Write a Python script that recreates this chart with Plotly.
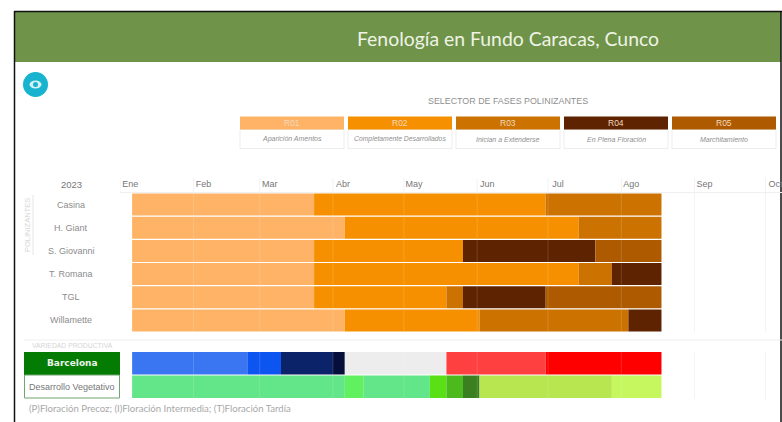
import plotly.graph_objects as go
from datetime import datetime

W, H = 782, 422

# ---- data ----
YEAR = "2023"
months = ["Ene", "Feb", "Mar", "Abr", "May", "Jun", "Jul", "Ago", "Sep", "Oct"]
month_starts = ["2023-%02d-01" % m for m in range(1, 11)]
varieties = ["Casina", "H. Giant", "S. Giovanni", "T. Romana", "TGL", "Willamette"]

phase_names = ["R01", "R02", "R03", "R04", "R05"]
phase_desc = ["Aparición Amentos", "Completamente Desarrollados", "Inician a Extenderse",
              "En Plena Floración", "Marchitamiento"]
phase_colors = ["#FFB366", "#F69000", "#CC7200", "#5E2300", "#AE5A00"]

R01_start = ["2023-01-06"] * 6
R01_end = ["2023-03-24", "2023-04-06", "2023-03-24", "2023-03-24", "2023-03-24", "2023-04-06"]
R02_start = R01_end
R02_end = ["2023-06-30", "2023-07-14", "2023-05-26", "2023-07-14", "2023-05-19", "2023-06-02"]
R03_start = ["2023-06-30", "2023-07-14", None, "2023-07-14", "2023-05-19", "2023-06-02"]
R03_end = ["2023-08-18", "2023-08-18", None, "2023-07-28", "2023-05-26", "2023-08-04"]
R04_start = [None, None, "2023-05-26", "2023-07-28", "2023-05-26", "2023-08-04"]
R04_end = [None, None, "2023-07-21", "2023-08-18", "2023-06-30", "2023-08-18"]
R05_start = [None, None, "2023-07-21", None, "2023-06-30", None]
R05_end = [None, None, "2023-08-18", None, "2023-08-18", None]
phase_starts = [R01_start, R02_start, R03_start, R04_start, R05_start]
phase_ends = [R01_end, R02_end, R03_end, R04_end, R05_end]

prod_rows = ["Barcelona", "Desarrollo Vegetativo"]
barcelona_starts = ["2023-01-06", "2023-02-24", "2023-03-10", "2023-04-01", "2023-04-06",
                    "2023-05-19", "2023-06-30"]
barcelona_ends = ["2023-02-24", "2023-03-10", "2023-04-01", "2023-04-06", "2023-05-19",
                  "2023-06-30", "2023-08-18"]
barcelona_colors = ["#3A76F2", "#0D55F0", "#0B2368", "#050F3A", "#EEEDEE", "#FF4040", "#FF0000"]
vegetativo_starts = ["2023-01-06", "2023-04-06", "2023-04-14", "2023-05-12", "2023-05-19",
                     "2023-05-26", "2023-06-02", "2023-07-28"]
vegetativo_ends = ["2023-04-06", "2023-04-14", "2023-05-12", "2023-05-19", "2023-05-26",
                   "2023-06-02", "2023-07-28", "2023-08-18"]
vegetativo_colors = ["#63E58A", "#60F060", "#63E58A", "#5AE014", "#4CBA1C", "#3A7F20", "#B8E650", "#C6F75E"]

# ---- helpers ----
def px(x): return x / W
def py(y): return 1 - y / H
def ms(a, b):
    f = "%Y-%m-%d"
    return (datetime.strptime(b, f) - datetime.strptime(a, f)).total_seconds() * 1000

fig = go.Figure()

for name, starts, ends, color in zip(phase_names, phase_starts, phase_ends, phase_colors):
    ys, bases, xs = [], [], []
    for v, s, e in zip(varieties, starts, ends):
        if s is not None:
            ys.append(v); bases.append(s); xs.append(ms(s, e))
    fig.add_trace(go.Bar(y=ys, x=xs, base=bases, orientation="h", name=name,
                         marker=dict(color=color, line_width=0), xaxis="x", yaxis="y",
                         showlegend=False))

for row, starts, ends, colors in [(prod_rows[0], barcelona_starts, barcelona_ends, barcelona_colors),
                                  (prod_rows[1], vegetativo_starts, vegetativo_ends, vegetativo_colors)]:
    for s, e, c in zip(starts, ends, colors):
        fig.add_trace(go.Bar(y=[row], x=[ms(s, e)], base=[s], orientation="h", name=row,
                             marker=dict(color=c, line_width=0), xaxis="x2", yaxis="y2",
                             showlegend=False))

shapes, ann = [], []

def rect(x0, y0, x1, y1, fill="rgba(0,0,0,0)", line=None, lw=1, layer="below"):
    shapes.append(dict(type="rect", xref="paper", yref="paper", x0=px(x0), x1=px(x1), y0=py(y0), y1=py(y1),
                       fillcolor=fill, line=dict(color=line or "rgba(0,0,0,0)", width=lw if line else 0),
                       layer=layer))

def hvline(x0, y0, x1, y1, color, lw=1):
    shapes.append(dict(type="line", xref="paper", yref="paper", x0=px(x0), x1=px(x1), y0=py(y0), y1=py(y1),
                       line=dict(color=color, width=lw), layer="below"))

def text(x, y, s, size, color, anchor="center", font="Liberation Sans", angle=0):
    ann.append(dict(x=px(x), y=py(y), xref="paper", yref="paper", text=s, showarrow=False,
                    xanchor=anchor, yanchor="middle", textangle=angle,
                    font=dict(size=size, color=color, family=font)))

# page frame and header
rect(15, 12, 781, 62, fill="#6F9349")
hvline(14.5, 11, 14.5, 422, "#111111", 1.5)
hvline(14, 11.5, 782, 11.5, "#111111", 1.5)
hvline(781, 11, 781, 422, "#111111", 1.5)
text(508, 38, "Fenología en Fundo Caracas, Cunco", 19.4, "#EEF3E6", font="Lato")

# eye button
shapes.append(dict(type="circle", xref="paper", yref="paper", x0=px(23), x1=px(48), y0=py(97), y1=py(72),
                   fillcolor="#17B3CF", line_width=0, layer="above"))
shapes.append(dict(type="circle", xref="paper", yref="paper", x0=px(29.5), x1=px(41.5), y0=py(88.5), y1=py(80.5),
                   fillcolor="#D5F1F6", line_width=0, layer="above"))
shapes.append(dict(type="circle", xref="paper", yref="paper", x0=px(33), x1=px(38), y0=py(87), y1=py(82),
                   fillcolor="#17B3CF", line_width=0, layer="above"))

# phase selector
text(508, 101, "SELECTOR DE FASES POLINIZANTES", 8.9, "#8F8F8F")
box_left = [240, 348, 456, 564, 672]
for x0, n, d, c in zip(box_left, phase_names, phase_desc, phase_colors):
    rect(x0, 129.5, x0 + 104, 148.5, fill="#FFFFFF", line="#EDEDED")
    rect(x0, 116.5, x0 + 104, 129.5, fill=c)
    text(x0 + 52, 123, n, 8.5, "#F3D9BD")
    text(x0 + 52, 139, "<i>" + d + "</i>", 6.8 if len(d) > 22 else 7, "#8F8F8F")

# row labels
text(71, 185, YEAR, 9.5, "#777777")
for v in varieties:
    ann.append(dict(x=px(71), y=v, xref="paper", yref="y", text=v, showarrow=False, xanchor="center",
                    yanchor="middle", font=dict(size=9, color="#8C8C8C", family="Liberation Sans")))
text(27, 225, "POLINIZANTES", 7.5, "#D8D8D8", angle=-90)
hvline(33, 195, 33, 255, "#E6E6E6")
hvline(24, 340, 782, 340, "#EFEFEF")
text(30, 345.5, "VARIEDAD PRODUCTIVA", 6.8, "#D5D5D5", anchor="left")

rect(24, 352, 120, 375, fill="#047C04")
rect(24.5, 375, 119.5, 398, fill="#FFFFFF", line="#6FA56F")
ann.append(dict(x=px(72), y=prod_rows[0], xref="paper", yref="y2", text="<b>" + prod_rows[0] + "</b>",
                showarrow=False, xanchor="center", yanchor="middle",
                font=dict(size=9, color="#EAF3EA", family="DejaVu Sans")))
ann.append(dict(x=px(72), y=prod_rows[1], xref="paper", yref="y2", text=prod_rows[1],
                showarrow=False, xanchor="center", yanchor="middle",
                font=dict(size=9, color="#777777", family="Liberation Sans")))
text(27, 408.5, "(P)Floración Precoz; (I)Floración Intermedia; (T)Floración Tardía", 9.6, "#A8A8A8",
     anchor="left", font="Lato")

# faint month lines: above the axis and drawn over the bars
for m in month_starts:
    shapes.append(dict(type="line", xref="x", yref="paper", x0=m, x1=m, y0=py(192), y1=py(178),
                       line=dict(color="#F3F3F3", width=1), layer="below"))
    for ya, yb in [(py(332), py(193)), (py(398), py(352))]:
        shapes.append(dict(type="line", xref="x", yref="paper", x0=m, x1=m, y0=ya, y1=yb,
                           line=dict(color="rgba(255,255,255,0.15)", width=1), layer="above"))

x_range = ["2023-01-01", "2023-10-08"]
fig.update_layout(
    width=W, height=H, margin=dict(l=0, r=0, t=0, b=0, autoexpand=False),
    paper_bgcolor="white", plot_bgcolor="rgba(0,0,0,0)", barmode="overlay", bargap=0.05,
    showlegend=False, shapes=shapes, annotations=ann, hovermode=False,
    xaxis=dict(type="date", domain=[px(120.3), 1], range=x_range, side="top", anchor="y",
               tickmode="array", tickvals=month_starts, ticktext=months,
               ticklabelshift=10, ticklabelstandoff=1, ticks="", ticklabeloverflow="allow",
               tickfont=dict(size=9, color="#777777", family="Liberation Sans"),
               showgrid=True, gridcolor="#F3F3F3", showline=True, linecolor="#F0F0F0", zeroline=False),
    xaxis2=dict(type="date", domain=[px(120.3), 1], range=x_range, matches="x", anchor="y2",
                tickmode="array", tickvals=month_starts, showticklabels=False, ticks="",
                showgrid=True, gridcolor="#F3F3F3", showline=False, zeroline=False),
    yaxis=dict(domain=[py(332), py(193)], type="category", categoryorder="array", categoryarray=varieties,
               autorange="reversed", showticklabels=False, showgrid=False, zeroline=False, ticks=""),
    yaxis2=dict(domain=[py(398.5), py(351.5)], type="category", categoryorder="array", categoryarray=prod_rows,
                autorange="reversed", showticklabels=False, showgrid=False, zeroline=False, ticks=""),
)

fig.write_html("out.html", config=dict(displayModeBar=False),
               post_script="document.body.style.margin='0';document.documentElement.style.overflow='hidden';")
